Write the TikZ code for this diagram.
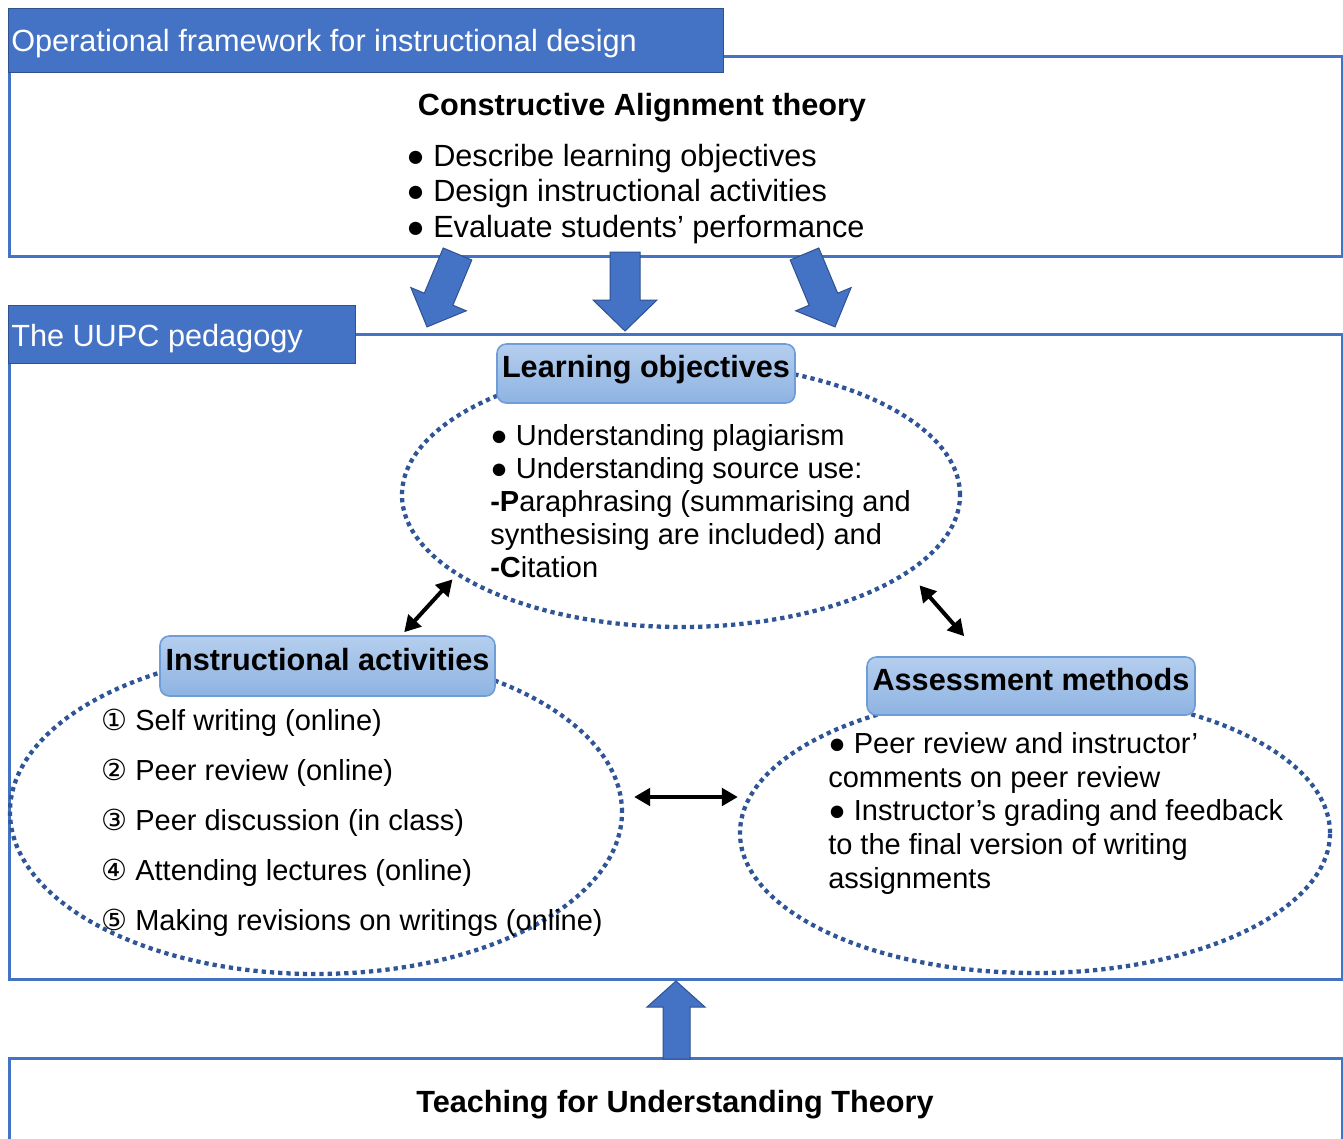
\documentclass[tikz,border=0pt]{standalone}
\usepackage{fontspec}
\setmainfont{Liberation Sans}
\newfontfamily\dv{DejaVu Sans}
\usetikzlibrary{shapes.geometric,arrows.meta}
\definecolor{boxblue}{HTML}{4472C4}
\definecolor{hdrline}{HTML}{2F528F}
\definecolor{dotblue}{HTML}{2F5597}
\definecolor{labtop}{HTML}{B5CEEE}
\definecolor{labbot}{HTML}{8EB3E2}
\definecolor{labline}{HTML}{6E9DD8}
\newcommand\bigf{\fontsize{23pt}{27pt}\selectfont}
\newcommand\smf{\fontsize{21.75pt}{26pt}\selectfont}
\begin{document}
\begin{tikzpicture}[x=0.75pt,y=-0.75pt,
  frame/.style={draw=boxblue, line width=2.4pt, fill=white, anchor=north west, inner sep=0pt},
  hdr/.style={fill=boxblue, draw=hdrline, line width=0.75pt, anchor=north west, inner sep=0pt},
  hdrtxt/.style={text=white, font=\bigf, anchor=west, inner sep=0pt, text height=16.5pt, text depth=0pt},
  ln/.style={anchor=west, inner sep=0pt, font=\smf, text height=15.7pt, text depth=0pt},
  lnbig/.style={anchor=west, inner sep=0pt, font=\bigf, text height=16.5pt, text depth=0pt},
  ctr/.style={inner sep=0pt, font=\bigf\bfseries, text height=16.5pt, text depth=0pt},
  lab/.style={rounded corners=7pt, top color=labtop, bottom color=labbot, draw=labline, line width=1.2pt, inner sep=0pt, font=\bigf\bfseries, text height=16.5pt, text depth=10.5pt},
  dots/.style={ellipse, draw=dotblue, line width=3.2pt, dash pattern=on 3.2pt off 3pt, inner sep=0pt},
  blockarrow/.style={fill=boxblue, draw=hdrline, line width=0.75pt, line join=miter},
  dbl/.style={{Triangle[length=12pt,width=13pt]}-{Triangle[length=12pt,width=13pt]}, line width=3pt, draw=black}
]
\useasboundingbox (0,0) rectangle (1343,1139);
\clip (0,0) rectangle (1343,1139);
\fill[white] (0,0) rectangle (1343,1139);

% frames
\node[frame, minimum width=1333*0.75pt, minimum height=200*0.75pt] (topbox) at (8,55) {};
\node[frame, minimum width=1333*0.75pt, minimum height=645*0.75pt] (midbox) at (8,333) {};
\node[frame, minimum width=1333*0.75pt, minimum height=100*0.75pt] (botbox) at (8,1057) {};

% headers
\node[hdr, minimum width=715*0.75pt, minimum height=64*0.75pt] (hdr1) at (8,8) {};
\node[hdrtxt] (hdr1t) at (11,40) {Operational framework for instructional design};
\node[hdr, minimum width=347*0.75pt, minimum height=58*0.75pt] (hdr2) at (8,305) {};
\node[hdrtxt] (hdr2t) at (11,335) {The UUPC pedagogy};

% top box text
\node[ctr] (cat) at (642,104) {Constructive Alignment theory};
\node[lnbig] (ca1) at (406,155) {● Describe learning objectives};
\node[lnbig] (ca2) at (406,190) {● Design instructional activities};
\node[lnbig] (ca3) at (406,226) {● Evaluate students’ performance};

% bottom text
\node[ctr] (tfu) at (675,1101) {Teaching for Understanding Theory};

% ellipses
\node[dots, minimum width=558*0.75pt, minimum height=264*0.75pt] (loell) at (681,495) {};
\node[dots, minimum width=612*0.75pt, minimum height=324*0.75pt] (iaell) at (316,812) {};
\node[dots, minimum width=590*0.75pt, minimum height=280*0.75pt] (amell) at (1035,833) {};

% labels
\node[lab, minimum width=298*0.75pt, minimum height=59*0.75pt] (lolab) at (646,373.5) {Learning objectives};
\node[lab, minimum width=335*0.75pt, minimum height=60*0.75pt] (ialab) at (327.5,666) {Instructional activities};
\node[lab, minimum width=328*0.75pt, minimum height=58*0.75pt] (amlab) at (1031,686) {Assessment methods};

% learning objectives text
\node[ln] (lo1) at (490,435) {● Understanding plagiarism};
\node[ln] (lo2) at (490,468) {● Understanding source use:};
\node[ln] (lo3) at (490,501) {\textbf{-P}araphrasing (summarising and};
\node[ln] (lo4) at (490,534) {synthesising are included) and};
\node[ln] (lo5) at (490,567) {\textbf{-C}itation};

% instructional activities text
\node[ln] (ia1) at (101,720) {{\dv ①} Self writing (online)};
\node[ln] (ia2) at (101,770) {{\dv ②} Peer review (online)};
\node[ln] (ia3) at (101,820) {{\dv ③} Peer discussion (in class)};
\node[ln] (ia4) at (101,870) {{\dv ④} Attending lectures (online)};
\node[ln] (ia5) at (101,920) {{\dv ⑤} Making revisions on writings (online)};

% assessment text
\node[ln] (am1) at (828,743) {● Peer review and instructor’};
\node[ln] (am2) at (828,777) {comments on peer review};
\node[ln] (am3) at (828,810) {● Instructor’s grading and feedback};
\node[ln] (am4) at (828,844) {to the final version of writing};
\node[ln] (am5) at (828,878) {assignments};

% double arrows
\draw[dbl] ([shift={(-5,3)}]loell.200) -- ([shift={(245,-3)}]ialab.north west);
\draw[dbl] ([shift={(15,9)}]loell.340) -- ([shift={(98,-20)}]amlab.north west);
\draw[dbl] ([shift={(10,-15)}]iaell.east) -- ([shift={(0,-36)}]amell.west);

% block arrows
\filldraw[blockarrow] (443.2,248) -- (471.8,260) -- (452.9,305.2) -- (466.3,310.8) -- (427,326.9) -- (410.9,287.6) -- (424.3,293.2) -- cycle;
\filldraw[blockarrow] (610,252) -- (640,252) -- (640,300) -- (657,300) -- (625,331) -- (593,300) -- (610,300) -- cycle;
\filldraw[blockarrow] (818.8,248) -- (790.2,260) -- (809.1,305.2) -- (795.7,310.8) -- (835,326.9) -- (851.1,287.6) -- (837.7,293.2) -- cycle;
\filldraw[blockarrow] (663,1059) -- (663,1007) -- (647,1007) -- (676,981) -- (705,1007) -- (690,1007) -- (690,1059) -- cycle;
\end{tikzpicture}
\end{document}
